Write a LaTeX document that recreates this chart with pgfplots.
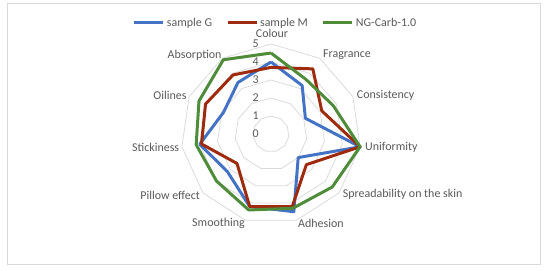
\documentclass[border=0pt]{standalone}
\usepackage{fontspec}
\setmainfont{Carlito}
\usepackage{pgfplots}
\pgfplotsset{compat=1.18}
\definecolor{gridc}{HTML}{D9D9D9}
\definecolor{txt}{HTML}{595959}
\definecolor{cG}{HTML}{4472C4}
\definecolor{cM}{HTML}{9E2B0E}
\definecolor{cN}{HTML}{4E8C3A}
\begin{document}
\begin{tikzpicture}
\begin{axis}[
  scale only axis, width=550bp, height=270bp,
  xmin=-15.056, xmax=15.5, ymin=-7.556, ymax=7.444,
  axis lines=none, ticks=none, clip=false,
  legend columns=3,
  legend style={at={(rel axis cs:0.501,0.915)}, anchor=center, draw=none, fill=none,
    font=\fontsize{12}{14}\selectfont, text=txt,
    /tikz/every even column/.append style={column sep=12bp}},
  legend image code/.code={\draw[#1] (0bp,0bp) -- (29bp,0bp);},
]
% frame and bounding box
\path (rel axis cs:0,0) rectangle (rel axis cs:1,1);
\draw[gridc, line width=0.75pt] (axis cs:-14.667,-7.222) rectangle (axis cs:14.944,7.278);
% rings
\pgfplotsinvokeforeach{1,2,3,4,5}{
  \addplot[gridc, line width=0.75pt, data cs=polar, forget plot] coordinates {
    (90,#1) (57.273,#1) (24.545,#1) (-8.182,#1) (-40.909,#1) (-73.636,#1)
    (-106.364,#1) (-139.091,#1) (-171.818,#1) (-204.545,#1) (-237.273,#1) (-270,#1)};
}
% series: Colour, Fragrance, Consistency, Uniformity, Spreadability, Adhesion,
% Smoothing, Pillow effect, Stickiness, Oilines, Absorption
\addplot[cG, line width=3pt, line join=round, data cs=polar] coordinates {
  (90,4.0) (57.273,3.2) (24.545,2.1) (-8.182,5.0) (-40.909,2.0) (-73.636,4.5)
  (-106.364,4.2) (-139.091,3.2) (-171.818,4.0) (-204.545,2.9) (-237.273,3.4) (-270,4.0)};
\addlegendentry{sample G}
\addplot[cM, line width=3pt, line join=round, data cs=polar] coordinates {
  (90,3.7) (57.273,4.3) (24.545,3.1) (-8.182,5.0) (-40.909,2.6) (-73.636,4.2)
  (-106.364,4.2) (-139.091,2.5) (-171.818,3.9) (-204.545,4.0) (-237.273,3.9) (-270,3.7)};
\addlegendentry{sample M}
\addplot[cN, line width=3pt, line join=round, data cs=polar] coordinates {
  (90,4.5) (57.273,3.6) (24.545,3.8) (-8.182,5.0) (-40.909,4.5) (-73.636,4.3)
  (-106.364,4.4) (-139.091,4.0) (-171.818,4.2) (-204.545,4.4) (-237.273,4.9) (-270,4.5)};
\addlegendentry{NG-Carb-1.0}
% ring labels
\pgfplotsinvokeforeach{0,1,2,3,4,5}{
  \node[anchor=east, font=\fontsize{12}{14}\selectfont, text=txt, inner sep=0pt] at (axis cs:-0.667,#1) {#1};
}
\begin{scope}[every node/.style={font=\fontsize{12}{14}\selectfont, text=txt, inner sep=0pt}]
\node[anchor=center] at (axis cs:0.056,5.611) {Colour};
\node[anchor=west] at (axis cs:2.889,4.389) {Fragrance};
\node[anchor=west] at (axis cs:4.761,2.167) {Consistency};
\node[anchor=west] at (axis cs:5.222,-0.722) {Uniformity};
\node[anchor=west] at (axis cs:3.983,-3.333) {Spreadability on the skin};
\node[anchor=west] at (axis cs:1.5,-4.944) {Adhesion};
\node[anchor=east] at (axis cs:-1.444,-4.944) {Smoothing};
\node[anchor=east] at (axis cs:-3.944,-3.389) {Pillow effect};
\node[anchor=east] at (axis cs:-5.094,-0.722) {Stickiness};
\node[anchor=east] at (axis cs:-4.683,2.167) {Oilines};
\node[anchor=east] at (axis cs:-2.739,4.389) {Absorption};
\end{scope}
\end{axis}
\end{tikzpicture}
\end{document}
